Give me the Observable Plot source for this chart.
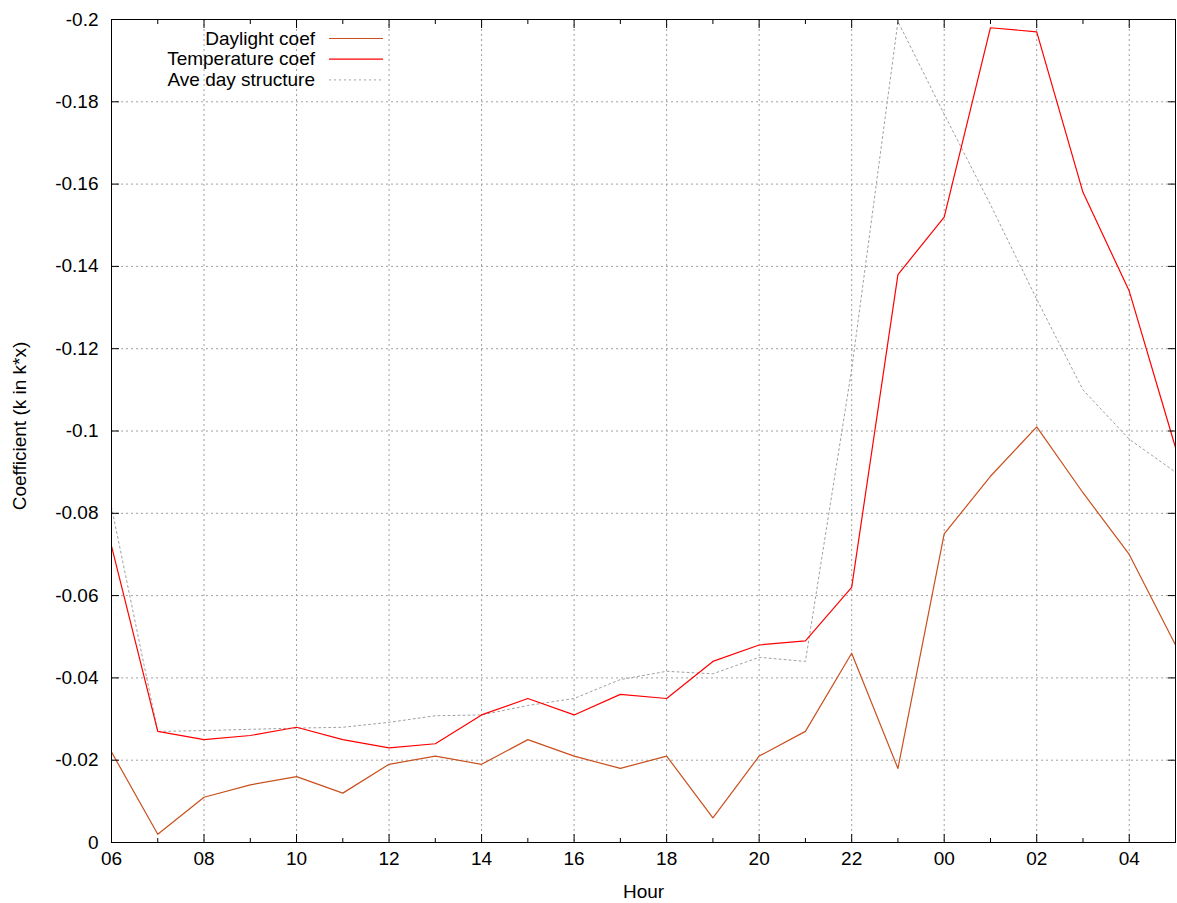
<!DOCTYPE html>
<html>
<head>
<meta charset="utf-8">
<script src="https://cdn.jsdelivr.net/npm/d3@7"></script>
<script src="https://cdn.jsdelivr.net/npm/@observablehq/plot@0.6"></script>
<style>
  html, body { margin: 0; padding: 0; background: #fff; }
  #chart svg { display: block; }
</style>
</head>
<body>
<div id="chart"></div>
<script>
// ---- data ----
const hourLabels = ["06","07","08","09","10","11","12","13","14","15","16","17",
                    "18","19","20","21","22","23","00","01","02","03","04","05"];
const daylight = [-0.022, -0.002, -0.011, -0.014, -0.016, -0.012, -0.019, -0.021,
                  -0.019, -0.025, -0.021, -0.018, -0.021, -0.006, -0.021, -0.027,
                  -0.046, -0.018, -0.075, -0.089, -0.101, -0.085, -0.070, -0.048];
const temperature = [-0.072, -0.027, -0.025, -0.026, -0.028, -0.025, -0.023, -0.024,
                     -0.031, -0.035, -0.031, -0.036, -0.035, -0.044, -0.048, -0.049,
                     -0.062, -0.138, -0.152, -0.198, -0.197, -0.158, -0.134, -0.096];
const aveDay = [-0.0815, -0.027, -0.0272, -0.0275, -0.0278, -0.028, -0.0292, -0.0308,
                -0.031, -0.0333, -0.035, -0.0396, -0.0416, -0.041, -0.045, -0.044,
                -0.115, -0.1995, -0.177, -0.155, -0.132, -0.110, -0.098, -0.090];
const seriesNames = ["Daylight coef", "Temperature coef", "Ave day structure"];
const yTicks = [0, -0.02, -0.04, -0.06, -0.08, -0.1, -0.12, -0.14, -0.16, -0.18, -0.2];
const xLabel = "Hour";
const yLabel = "Coefficient (k in k*x)";

// ---- styles ----
const W = 1177, H = 903;
const M = {top: 19, right: 2, bottom: 61, left: 111};
const FONT = 19;
const gridColor = "#a0a0a0";
const dash = "2,3";
const colors = ["#c8501e", "#ff0000", "#a0a0a0"];

const idx = hourLabels.map((_, i) => i);
const xMajor = idx.filter(i => i % 2 === 0);
const xMinor = idx.filter(i => i % 2 === 1);
const fmtY = d => d === 0 ? "0" : "-" + String(+Math.abs(d).toFixed(2));
const blank = () => "";

const lineOpts = (i, extra = {}) => ({x: (d, j) => j, y: d => d, stroke: colors[i], ...extra});

const plot = Plot.plot({
  width: W, height: H,
  marginTop: M.top, marginRight: M.right, marginBottom: M.bottom, marginLeft: M.left,
  style: {fontFamily: "'Liberation Sans', Arial, sans-serif", fontSize: FONT + "px", background: "#fff", overflow: "visible"},
  x: {type: "linear", domain: [0, hourLabels.length - 1]},
  y: {type: "linear", domain: [0, -0.2]},
  marks: [
    Plot.gridX(xMajor, {stroke: gridColor, strokeOpacity: 1, strokeDasharray: dash}),
    Plot.gridY(yTicks, {stroke: gridColor, strokeOpacity: 1, strokeDasharray: dash}),
    Plot.line(aveDay, lineOpts(2, {strokeWidth: 1, strokeDasharray: dash})),
    Plot.line(daylight, lineOpts(0, {strokeWidth: 1.2})),
    Plot.line(temperature, lineOpts(1, {strokeWidth: 1.2})),
    Plot.frame({stroke: "#000", strokeWidth: 1}),
    // inward ticks (bottom / top)
    Plot.axisX(xMajor, {anchor: "bottom", tickSize: 8, dy: -8, tickFormat: blank, stroke: "#000"}),
    Plot.axisX(xMinor, {anchor: "bottom", tickSize: 4, dy: -4, tickFormat: blank, stroke: "#000"}),
    Plot.axisX(xMajor, {anchor: "top", tickSize: 8, dy: 8, tickFormat: blank, stroke: "#000"}),
    Plot.axisX(xMinor, {anchor: "top", tickSize: 4, dy: 4, tickFormat: blank, stroke: "#000"}),
    // inward ticks (left / right)
    Plot.axisY(yTicks, {anchor: "left", tickSize: 8, dx: 8, tickFormat: blank, stroke: "#000"}),
    Plot.axisY(yTicks, {anchor: "right", tickSize: 8, dx: -8, tickFormat: blank, stroke: "#000"}),
    // tick labels
    Plot.axisX(xMajor, {anchor: "bottom", tickSize: 0, tickPadding: 9, tickFormat: i => hourLabels[i], fontSize: FONT, fill: "#000"}),
    Plot.axisY(yTicks, {anchor: "left", tickSize: 0, tickPadding: 13, tickFormat: fmtY, fontSize: FONT, fill: "#000"}),
    // axis titles
    Plot.text([xLabel], {frameAnchor: "bottom", dy: 49, textAnchor: "middle", lineAnchor: "middle", fontSize: FONT, fill: "#000"}),
    Plot.text([yLabel], {frameAnchor: "left", dx: -92, dy: -5, rotate: -90, textAnchor: "middle", lineAnchor: "middle", fontSize: FONT, fill: "#000"})
  ]
});

document.getElementById("chart").appendChild(plot);

// ---- legend (inside plot, top-left) ----
const svg = d3.select(plot);
const lg = svg.append("g").attr("class", "legend")
  .attr("font-family", "'Liberation Sans', Arial, sans-serif")
  .attr("font-size", FONT);
seriesNames.forEach((name, i) => {
  const cy = 38 + i * 20.7;
  lg.append("text").attr("x", 315).attr("y", cy).attr("dy", "0.35em")
    .attr("text-anchor", "end").attr("fill", "#000").text(name);
  const ln = lg.append("line").attr("x1", 329).attr("x2", 383)
    .attr("y1", cy + 0.5).attr("y2", cy + 0.5)
    .attr("stroke", colors[i]).attr("stroke-width", i === 2 ? 1 : 1.2);
  if (i === 2) ln.attr("stroke-dasharray", dash);
});
</script>
</body>
</html>
